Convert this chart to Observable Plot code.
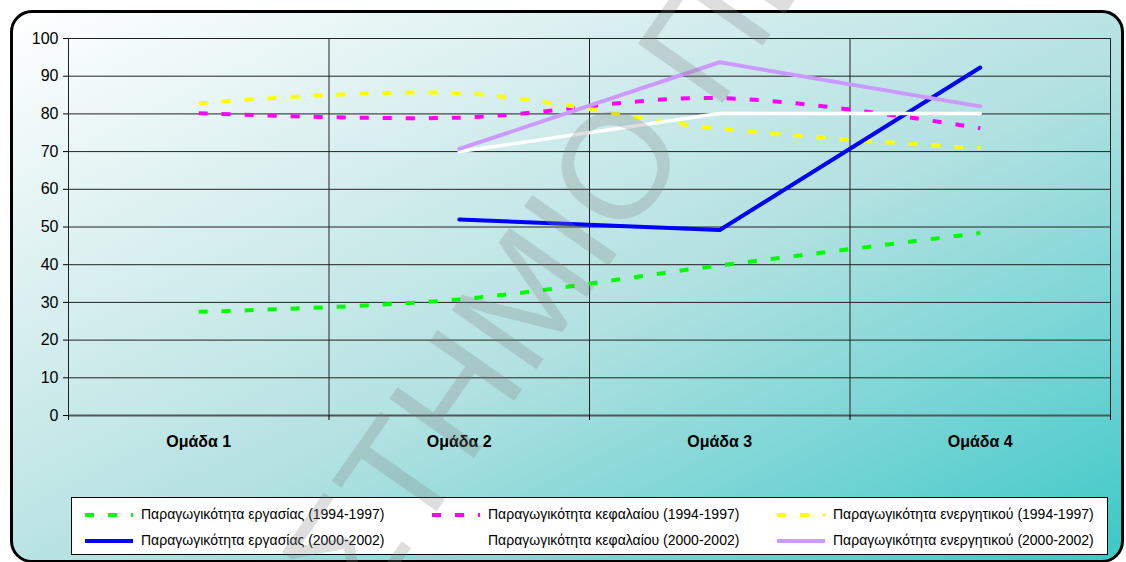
<!DOCTYPE html>
<html>
<head>
<meta charset="utf-8">
<script src="https://cdn.jsdelivr.net/npm/d3@7"></script>
<script src="https://cdn.jsdelivr.net/npm/@observablehq/plot@0.6"></script>
<style>
html,body{margin:0;padding:0;background:#fff;width:1126px;height:562px;overflow:hidden;font-family:"Liberation Sans",Arial,sans-serif;}
#frame{position:absolute;left:10px;top:10px;width:1108px;height:547px;border:3px solid #000;border-radius:22px;
  background:linear-gradient(to bottom right,#ffffff 0%,#d6eeee 30%,#b2e1e1 55%,#3cc8c8 100%);}
#chart{position:absolute;left:0;top:0;}
#legend{position:absolute;left:71px;top:497px;width:1037px;height:58px;background:#fff;border:1px solid #000;box-sizing:border-box;}
.item{position:absolute;font-size:14px;color:#000;white-space:nowrap;line-height:14px;}
#wm{position:absolute;left:0;top:0;pointer-events:none;}
</style>
</head>
<body>
<div id="frame"></div>
<div id="chart"></div>
<div id="legend"></div>
<svg id="wm" width="1126" height="562"></svg>
<script>
const groups = ["Ομάδα 1", "Ομάδα 2", "Ομάδα 3", "Ομάδα 4"];
const labor9497   = [27.5, 30.8, 39.8, 48.4];
const capital9497 = [80.2, 79.0, 84.2, 76.2];
const assets9497  = [82.8, 85.5, 76.0, 70.9];
const labor0002   = [null, 52.0, 49.2, 92.3];
const capital0002 = [null, 70.0, 80.1, 80.1];
const assets0002  = [null, 70.7, 93.7, 82.0];
const yTicks = [0, 10, 20, 30, 40, 50, 60, 70, 80, 90, 100];
const seriesNames = [
  "Παραγωγικότητα εργασίας (1994-1997)",
  "Παραγωγικότητα κεφαλαίου (1994-1997)",
  "Παραγωγικότητα ενεργητικού (1994-1997)",
  "Παραγωγικότητα εργασίας (2000-2002)",
  "Παραγωγικότητα κεφαλαίου (2000-2002)",
  "Παραγωγικότητα ενεργητικού (2000-2002)"
];
const seriesColors = ["#00ff00", "#ff00ff", "#ffff00", "#0000ff", "#ffffff", "#cc99ff"];
const seriesDashed = [true, true, true, false, false, false];
const seriesValues = [labor9497, capital9497, assets9497, labor0002, capital0002, assets0002];
const watermarkText = "ΠΑΝΕΠΙΣΤΗΜΙΟ ΠΕΙΡΑΙΩΣ";

const font = "'Liberation Sans', Arial, sans-serif";

const lineMarks = seriesValues.map((vals, s) => {
  const rows = vals.map((v, i) => ({x: i + 0.5, y: v})).filter(d => d.y != null);
  return Plot.line(rows, {
    x: "x", y: "y",
    stroke: seriesColors[s],
    strokeWidth: seriesDashed[s] ? 4 : (s === 4 ? 3.5 : 4),
    strokeDasharray: seriesDashed[s] ? "9,14" : null,
    strokeLinecap: seriesDashed[s] ? "butt" : "round",
    curve: seriesDashed[s] ? "catmull-rom" : "linear"
  });
});

const chart = Plot.plot({
  width: 1126,
  height: 562,
  marginLeft: 68,
  marginRight: 16,
  marginTop: 38,
  marginBottom: 147,
  style: {background: "transparent", fontFamily: font, color: "#000"},
  x: {domain: [0, 4], axis: null},
  y: {domain: [0, 100], axis: null},
  marks: [
    Plot.ruleY(yTicks.filter(d => d > 0), {stroke: "#222", strokeWidth: 1}),
    Plot.ruleX([0, 1, 2, 3, 4], {stroke: "#222", strokeWidth: 1}),
    Plot.ruleY([0], {stroke: "#555", strokeWidth: 2}),
    Plot.axisY({ticks: yTicks, tickSize: 5, tickPadding: 5, fontSize: 16, label: null, tickFormat: d => String(d)}),
    Plot.axisX({ticks: [0, 1, 2, 3, 4], tickSize: 5, tickFormat: () => "", label: null}),
    Plot.axisX({ticks: [0.5, 1.5, 2.5, 3.5], tickSize: 0, tickPadding: 20, fontSize: 16, fontWeight: "bold",
      tickFormat: d => groups[Math.floor(d)], label: null}),
    ...lineMarks
  ]
});
document.getElementById("chart").appendChild(chart);

// Legend
const legend = document.getElementById("legend");
const legLeft = 71, legTop = 497;
const colSym = [84, 431, 776];
const colText = [140, 487, 832];
const rowY = [514, 540];
seriesNames.forEach((name, s) => {
  const col = s % 3, row = Math.floor(s / 3);
  const sym = document.createElementNS("http://www.w3.org/2000/svg", "svg");
  sym.setAttribute("width", 48);
  sym.setAttribute("height", 8);
  sym.style.position = "absolute";
  sym.style.left = (colSym[col] - legLeft) + "px";
  sym.style.top = (rowY[row] - 4 - legTop) + "px";
  const ln = document.createElementNS("http://www.w3.org/2000/svg", "line");
  ln.setAttribute("x1", 0); ln.setAttribute("x2", 48);
  ln.setAttribute("y1", 4); ln.setAttribute("y2", 4);
  ln.setAttribute("stroke", seriesColors[s]);
  ln.setAttribute("stroke-width", 4);
  if (seriesDashed[s]) ln.setAttribute("stroke-dasharray", "9,14");
  else ln.setAttribute("stroke-linecap", "round");
  sym.appendChild(ln);
  legend.appendChild(sym);
  const t = document.createElement("div");
  t.className = "item";
  t.textContent = name;
  t.style.left = (colText[col] - legLeft) + "px";
  t.style.top = (rowY[row] - 8 - legTop) + "px";
  legend.appendChild(t);
});

// Watermark
const wm = d3.select("#wm");
const fs = 150;
const g = wm.append("g").attr("transform", "translate(614,164) rotate(-55)");
const txt = g.append("text")
  .attr("font-family", font)
  .attr("font-size", fs)
  .attr("fill", "#808080")
  .attr("fill-opacity", 0.26)
  .attr("y", fs * 0.36)
  .text(watermarkText);
const node = txt.node();
const oIdx = watermarkText.indexOf("Ο ");
let off = 0;
try {
  off = node.getSubStringLength(0, oIdx) + node.getSubStringLength(oIdx, 1) / 2;
} catch (e) { off = fs * 6.5; }
txt.attr("x", -off);
</script>
</body>
</html>
